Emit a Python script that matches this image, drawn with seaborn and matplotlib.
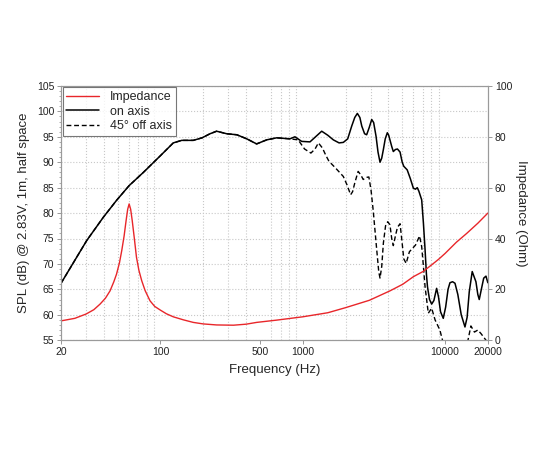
import matplotlib
matplotlib.use("Agg")
import matplotlib.pyplot as plt
import matplotlib.ticker as mticker
import seaborn as sns
import pandas as pd

# on axis SPL (dB)
on_freq = [20, 30.3, 39.7, 49.1, 60.2, 75.8, 100, 123, 141, 170, 196, 223, 248, 292, 344,
           404, 474, 558, 656, 812, 881, 982, 1124, 1230, 1359, 1500, 1640, 1800, 1928,
           2070, 2208, 2320, 2420, 2520, 2600, 2720, 2813, 2930, 3053, 3150, 3275, 3380,
           3492, 3590, 3687, 3800, 3930, 4020, 4100, 4220, 4330, 4480, 4630, 4830, 5000,
           5130, 5420, 5700, 5990, 6200, 6380, 6550, 6855, 7050, 7240, 7400, 7530, 7780,
           8054, 8350, 8730, 9000, 9300, 9720, 10100, 10500, 10830, 11300, 11750, 12300,
           13000, 13810, 14300, 14800, 15530, 16000, 16490, 17000, 17400, 18000, 18700,
           19400, 20000]
on_spl = [66.2, 74.6, 79.2, 82.5, 85.4, 88.0, 91.3, 93.8, 94.3, 94.3, 94.8, 95.6, 96.1, 95.6, 95.4,
          94.6, 93.6, 94.4, 94.8, 94.6, 95.0, 94.1, 94.0, 95.0, 96.1, 95.3, 94.4, 93.8, 93.9,
          94.6, 97.1, 98.8, 99.6, 98.8, 97.1, 95.6, 95.4, 96.8, 98.4, 97.8, 95.1, 92.0,
          90.0, 90.8, 92.5, 94.6, 95.8, 95.3, 94.4, 93.1, 92.1, 92.5, 92.6, 92.0, 90.0,
          89.2, 88.5, 86.8, 84.9, 84.7, 85.0, 84.3, 82.6, 78.0, 72.8, 68.0, 65.5, 63.0,
          62.1, 62.8, 65.2, 63.5, 60.6, 59.3, 61.5, 65.0, 66.3, 66.5, 66.2, 64.0,
          60.0, 57.6, 59.5, 64.5, 68.5, 67.5, 66.5, 64.0, 63.0, 65.0, 67.2,
          67.6, 66.3]

# 45 deg off axis: same as on axis up to ~800 Hz
off_freq = on_freq[:20] + [928, 1030, 1141, 1220, 1288, 1375, 1450, 1527, 1695, 1928, 2050,
                           2170, 2240, 2320, 2450, 2560, 2660, 2780, 2915, 3020, 3125, 3310,
                           3420, 3492, 3590, 3687, 3820, 3955, 4100, 4220, 4330, 4480, 4630,
                           4830, 5000, 5130, 5330, 5620, 6200, 6620, 6855, 7050, 7240, 7630,
                           8054, 8510, 9200, 9600, 10000, 11500, 13500, 14500, 15200, 16100,
                           17000, 17900, 19400, 20000]
off_spl = on_spl[:20] + [94.4, 92.6, 91.8, 92.6, 93.8, 92.8, 91.4, 90.2, 88.9, 87.2, 85.5,
                         83.6, 84.2, 85.9, 88.2, 87.5, 86.6, 87.0, 87.1, 84.5, 80.6, 72.8,
                         68.5, 67.2, 69.5, 74.1, 77.5, 78.3, 77.7, 75.0, 73.6, 75.5, 77.2,
                         77.9, 74.0, 71.0, 70.1, 72.4, 73.7, 75.5, 73.4, 69.5, 65.5, 60.3,
                         61.3, 59.0, 57.0, 55.0, 52.5, 50.0, 50.5, 55.0, 57.8, 56.6,
                         57.0, 56.3, 55.0, 54.2]

# impedance (Ohm)
imp_freq = [20, 25, 30, 34, 37.6, 41, 44.2, 47, 49.1, 51.5, 53.4, 55.5, 57.3, 58.8, 60.2,
            61.7, 63.3, 65.5, 67.8, 70.5, 73.8, 78, 84.4, 91, 100, 110, 123, 145, 170, 200,
            248, 326, 400, 474, 656, 1000, 1500, 2000, 2940, 4100, 5044, 6000, 7000, 8000,
            9000, 10000, 12000, 14200, 17000, 20000]
imp_ohm = [7.6, 8.6, 10.3, 12.0, 14.2, 16.5, 19.4, 23.0, 26.0, 30.5, 35.2, 41.0, 47.0, 51.5, 53.6,
           51.5, 47.0, 40.0, 32.6, 27.5, 23.4, 19.5, 15.5, 13.3, 11.8, 10.4, 9.2, 8.0, 7.0, 6.4,
           6.0, 5.9, 6.3, 7.0, 7.9, 9.2, 10.8, 12.8, 15.7, 19.4, 22.0, 25.0, 27.0, 29.5,
           31.8, 34.1, 38.5, 42.0, 46.0, 50.0]

x_labels = [20, 100, 500, 1000, 10000, 20000]

sns.set_style("white")
plt.rcParams['font.family'] = ['Liberation Sans', 'DejaVu Sans']

fig = plt.figure(figsize=(5.5, 4.5), dpi=100)
ax = fig.add_axes([0.111, 0.244, 0.776, 0.565])
ax2 = ax.twinx()

on_df = pd.DataFrame({"f": on_freq, "spl": on_spl})
off_df = pd.DataFrame({"f": off_freq, "spl": off_spl})
imp_df = pd.DataFrame({"f": imp_freq, "z": imp_ohm})

sns.lineplot(data=on_df, x="f", y="spl", ax=ax, color="black", lw=1.1, estimator=None, sort=False)
sns.lineplot(data=off_df, x="f", y="spl", ax=ax, color="black", lw=1.0, estimator=None,
             sort=False, dashes=False, linestyle=(0, (3.5, 2)))
sns.lineplot(data=imp_df, x="f", y="z", ax=ax2, color="#e8262a", lw=1.0, estimator=None, sort=False)

ax.set_xscale("log")
ax.set_xlim(20, 20000)
ax.set_ylim(55, 105)
ax2.set_ylim(0, 100)

ax.set_xticks(x_labels)
ax.set_xticklabels([str(v) for v in x_labels])
grid_x = list(range(20, 100, 10)) + list(range(100, 1000, 100)) + list(range(1000, 10000, 1000)) + [10000, 20000]
ax.xaxis.set_minor_locator(mticker.FixedLocator(grid_x))
ax.xaxis.set_minor_formatter(mticker.NullFormatter())
ax.set_yticks(range(55, 106, 5))
ax.yaxis.set_minor_locator(mticker.MultipleLocator(1))
ax2.set_yticks(range(0, 101, 20))

ax.grid(False)
ax2.grid(False)
ax.grid(True, axis="x", which="minor", color="#c8c8c8", linestyle=":", lw=0.8)
ax.grid(True, axis="y", which="major", color="#c8c8c8", linestyle=":", lw=0.8)

ax.tick_params(axis="both", which="major", labelsize=7.5, length=3, width=0.6, color="#888888",
               direction="out", pad=2, labelcolor="#222222", left=True, bottom=True)
ax.tick_params(axis="x", which="minor", length=0)
ax.tick_params(axis="y", which="minor", length=1.8, width=0.5, color="#888888", left=True)
ax2.tick_params(axis="y", labelsize=7.5, length=3, width=0.6, color="#888888", direction="out",
                pad=2, labelcolor="#222222", right=True)

for a in (ax, ax2):
    for s in a.spines.values():
        s.set_color("#9a9a9a")
        s.set_linewidth(0.8)

ax.set_xlabel("Frequency (Hz)", fontsize=9.5, labelpad=5)
ax.set_ylabel("SPL (dB) @ 2.83V, 1m, half space", fontsize=9.5, labelpad=5)
ax2.set_ylabel("Impedance (Ohm)", fontsize=9.5, rotation=270, labelpad=11)

handles = [ax2.lines[0], ax.lines[0], ax.lines[1]]
labels = ["Impedance", "on axis", "45° off axis"]
leg = ax2.legend(handles, labels, loc="upper left", fontsize=9, frameon=True, fancybox=False,
                 borderaxespad=0.12, handlelength=2.6, handletextpad=0.9, borderpad=0.3,
                 labelspacing=0.2)
leg.get_frame().set_edgecolor("#555555")
leg.get_frame().set_linewidth(0.8)

fig.savefig("out.png", dpi=100)
